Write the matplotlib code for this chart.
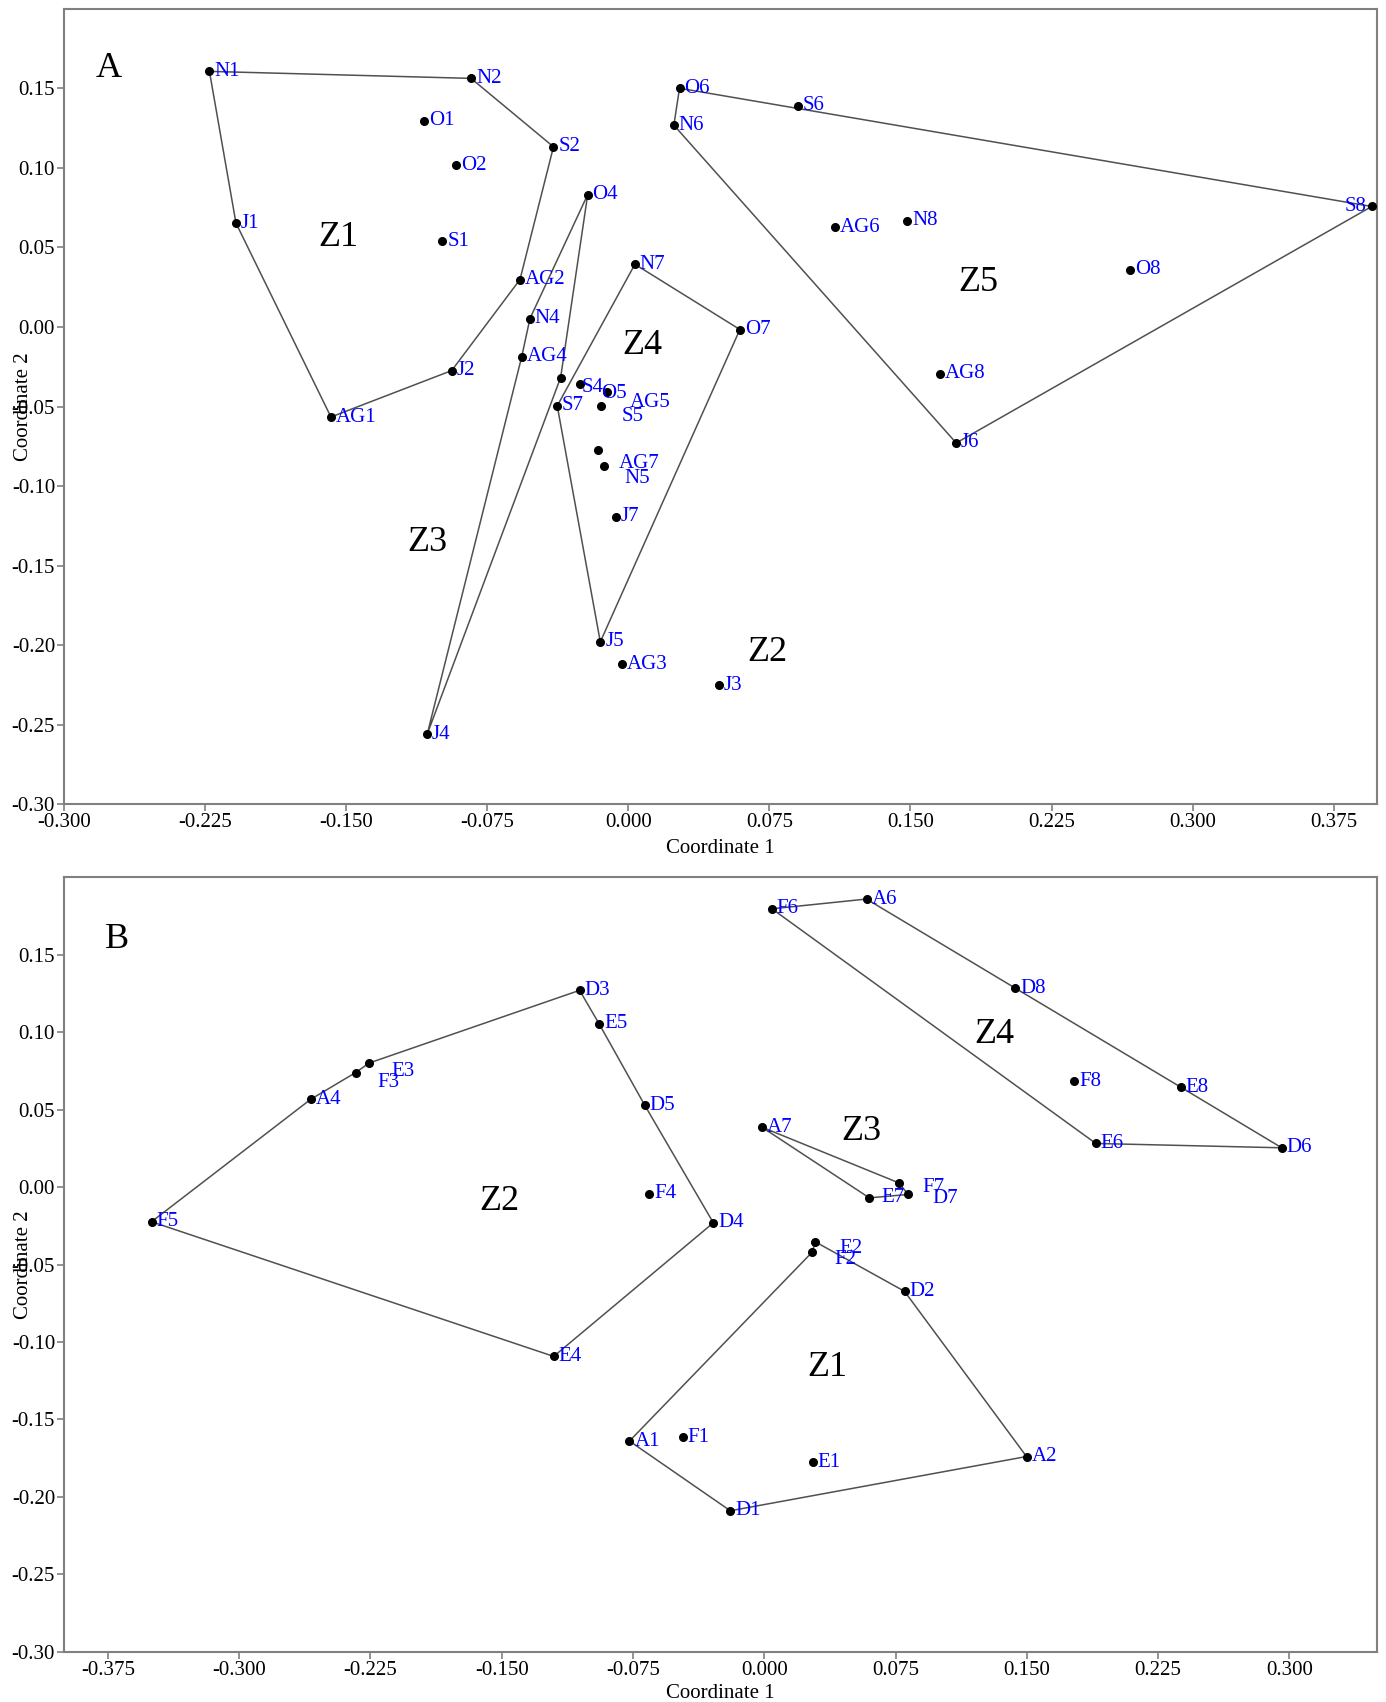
import matplotlib
matplotlib.use("Agg")
import matplotlib.pyplot as plt

plt.rcParams['font.family'] = ['Liberation Serif', 'DejaVu Serif']
plt.rcParams['axes.unicode_minus'] = False

# ---------------- Panel A: sampling sites 1-8, months N, O, S, AG, J ----------------
labels_a = ["N1", "N2", "S2", "O1", "O2", "J1", "S1", "AG2", "N4", "AG4", "J2", "AG1",
            "O4", "S4", "O5", "AG5", "S5", "S7", "N7", "O7", "AG7", "N5", "J7", "J5",
            "AG3", "J3", "J4", "O6", "S6", "N6", "S8", "AG6", "N8", "O8", "AG8", "J6"]
coord1_a = [-0.2227, -0.0836, -0.0398, -0.1084, -0.0917, -0.2086, -0.0989, -0.0576,
            -0.0523, -0.0567, -0.0939, -0.1581, -0.0216, -0.0360, -0.0257, -0.0112,
            -0.0144, -0.0378, 0.0035, 0.0593, -0.0163, -0.0130, -0.0068, -0.0149,
            -0.0036, 0.0483, -0.1069, 0.0272, 0.0900, 0.0242, 0.3952, 0.1096,
            0.1483, 0.2666, 0.1656, 0.1743]
coord2_a = [0.1606, 0.1562, 0.1132, 0.1295, 0.1016, 0.0653, 0.0538, 0.0298,
            0.0053, -0.0188, -0.0274, -0.0566, 0.0832, -0.0318, -0.0356, -0.0408,
            -0.0496, -0.0496, 0.0394, -0.0016, -0.0775, -0.0873, -0.1193, -0.1979,
            -0.2119, -0.2251, -0.2558, 0.1500, 0.1391, 0.1268, 0.0757, 0.0627,
            0.0668, 0.0361, -0.0293, -0.0729]
hulls_a = [["N1", "N2", "S2", "AG2", "J2", "AG1", "J1"],
           ["O4", "S4", "J4", "AG4", "N4"],
           ["N7", "O7", "J5", "S7"],
           ["O6", "S8", "J6", "N6"]]
zones_a = ["Z1", "Z2", "Z3", "Z4", "Z5"]
zone_x_a = [-0.1541, 0.0739, -0.1067, 0.0075, 0.1858]
zone_y_a = [0.056, -0.2045, -0.1356, -0.0115, 0.028]
xticks_a = [-0.300, -0.225, -0.150, -0.075, 0.000, 0.075, 0.150, 0.225, 0.300, 0.375]

# ---------------- Panel B: sampling sites 1-8, months A, D, E, F ----------------
labels_b = ["F6", "A6", "D8", "F8", "E8", "D6", "E6", "A7", "F7", "D7", "E7", "E2",
            "F2", "D2", "A2", "E1", "F1", "A1", "D1", "D3", "E5", "D5", "F4", "D4",
            "E4", "F5", "A4", "F3", "E3"]
coord1_b = [0.0044, 0.0584, 0.1434, 0.1770, 0.2378, 0.2956, 0.1894, -0.0013,
            0.0768, 0.0822, 0.0600, 0.0292, 0.0273, 0.0801, 0.1498, 0.0278,
            -0.0465, -0.0770, -0.0194, -0.1055, -0.0943, -0.0682, -0.0657, -0.0291,
            -0.1203, -0.3500, -0.2592, -0.2335, -0.2257]
coord2_b = [0.1795, 0.1858, 0.1283, 0.0681, 0.0645, 0.0253, 0.0281, 0.0386,
            0.0027, -0.0048, -0.0070, -0.0354, -0.0421, -0.0673, -0.1739, -0.1777,
            -0.1616, -0.1639, -0.2089, 0.1269, 0.1052, 0.0526, -0.0042, -0.0231,
            -0.1093, -0.0224, 0.0565, 0.0738, 0.0800]
hulls_b = [["E2", "D2", "A2", "D1", "A1", "F2"],
           ["F5", "A4", "F3", "E3", "D3", "E5", "D5", "D4", "E4"],
           ["A7", "F7", "D7", "E7"],
           ["F6", "A6", "D8", "E8", "D6", "E6"]]
zones_b = ["Z1", "Z2", "Z3", "Z4"]
zone_x_b = [0.0361, -0.1514, 0.0553, 0.1317]
zone_y_b = [-0.1167, -0.0095, 0.0361, 0.0985]
xticks_b = [-0.375, -0.300, -0.225, -0.150, -0.075, 0.000, 0.075, 0.150, 0.225, 0.300]

yticks = [-0.30, -0.25, -0.20, -0.15, -0.10, -0.05, 0.00, 0.05, 0.10, 0.15]

# label placement (offset points); crowded labels are pushed down-right
DEFAULT_OFFSET = (3.5, 0)
label_offsets = {
    "S4": (15, -7.5), "O5": (15, -7), "AG5": (16, -7.5), "S5": (15, -8),
    "AG7": (15, -9.5), "N5": (14.5, -9),
    "E3": (16, -6), "F3": (15.5, -7), "F7": (17, -3.5), "D7": (17.5, -3),
    "E7": (8.5, 0), "E2": (17.5, -4.5), "F2": (16, -5.5),
}
right_aligned = {"S8": (-3.5, 0)}

SPINE = "#808080"
LINE = "#505050"


def draw_panel(ax, labels, xs, ys, hulls, zones, zx, zy, xticks, xlim, letter, letter_pos,
               xlabel_y):
    pos = dict(zip(labels, zip(xs, ys)))
    for hull in hulls:
        hx = [pos[k][0] for k in hull] + [pos[hull[0]][0]]
        hy = [pos[k][1] for k in hull] + [pos[hull[0]][1]]
        ax.plot(hx, hy, color=LINE, lw=1.1, zorder=2)
    ax.plot(xs, ys, "o", color="black", ms=5.5, zorder=3, clip_on=False)
    for lab, x, y in zip(labels, xs, ys):
        if lab in right_aligned:
            ax.annotate(lab, (x, y), xytext=right_aligned[lab], textcoords="offset points",
                        ha="right", va="center", color="blue", fontsize=15, zorder=4)
        else:
            ax.annotate(lab, (x, y), xytext=label_offsets.get(lab, DEFAULT_OFFSET),
                        textcoords="offset points", ha="left", va="center",
                        color="blue", fontsize=15, zorder=4)
    for z, x, y in zip(zones, zx, zy):
        ax.text(x, y, z, ha="center", va="center", fontsize=26, color="black")
    ax.text(letter_pos[0], letter_pos[1], letter, transform=ax.transAxes,
            ha="center", va="center", fontsize=26)
    ax.set_xlim(*xlim)
    ax.set_ylim(-0.30, 0.20)
    ax.set_xticks(xticks)
    ax.set_xticklabels([f"{t:.3f}" for t in xticks])
    ax.set_yticks(yticks)
    ax.set_yticklabels([f"{t:.2f}" for t in yticks])
    for s in ax.spines.values():
        s.set_color(SPINE)
        s.set_linewidth(1.5)
    ax.tick_params(direction="out", length=5, width=1.2, color=SPINE,
                   labelsize=15, pad=1.5, labelcolor="black")
    ax.set_xlabel("Coordinate 1", fontsize=15)
    ax.set_ylabel("Coordinate 2", fontsize=15)
    ax.xaxis.set_label_coords(0.5, xlabel_y)
    ax.yaxis.set_label_coords(-0.024, 0.5)


fig = plt.figure(figsize=(13.86, 17.02), dpi=100)
ax_a = fig.add_axes([0.0462, 0.5274, 0.9473, 0.4675])
ax_b = fig.add_axes([0.0462, 0.0294, 0.9473, 0.4553])

draw_panel(ax_a, labels_a, coord1_a, coord2_a, hulls_a, zones_a, zone_x_a, zone_y_a,
           xticks_a, (-0.300, 0.398), "A", (0.034, 0.925), -0.043)
draw_panel(ax_b, labels_b, coord1_b, coord2_b, hulls_b, zones_b, zone_x_b, zone_y_b,
           xticks_b, (-0.400, 0.350), "B", (0.0405, 0.92), -0.041)

fig.savefig("out.png", dpi=100, facecolor="white")
